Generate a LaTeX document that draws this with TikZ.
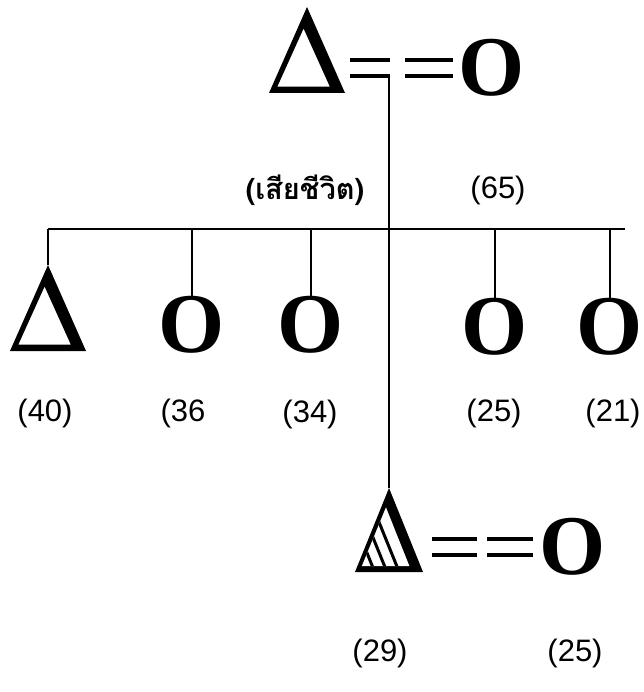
\documentclass[tikz,border=0pt]{standalone}
\usepackage{fontspec}
\setmainfont{Liberation Serif}
\newfontfamily\agefont{Liberation Sans}
\newfontfamily\thaifont[Script=Thai]{Loma}
\usetikzlibrary{calc}

% triangle symbol drawn inside a named node: node, width, height
\newcommand\malesym[3]{%
  \begin{scope}[shift={(#1.south west)}, x=#2, y=#3]
    \fill[even odd rule] (0,0) -- (0.5,1) -- (1,0) -- cycle
      (0.11,0.075) -- (0.455,0.75) -- (0.8,0.075) -- cycle;
  \end{scope}}
\newcommand\hatchsym[3]{%
  \begin{scope}[shift={(#1.south west)}, x=#2, y=#3]
    \fill (0,0) -- (0.5,1) -- (1,0) -- cycle;
    \fill[white] (0.1,0.07) -- (0.455,0.77) -- (0.8,0.07) -- cycle;
    \clip (0.1,0.07) -- (0.455,0.77) -- (0.8,0.07) -- cycle;
    \foreach \d in {0.35,0.53,0.71}
      \draw[line width=3pt] (0.5-\d,1) -- (1-\d,0);
  \end{scope}}

\begin{document}
\begin{tikzpicture}[
  x=1pt, y=-1pt,
  male/.style 2 args={minimum width=#1, minimum height=#2, inner sep=0pt, outer sep=0pt},
  female/.style={font=\fontsize{85}{85}\selectfont\bfseries, inner sep=0pt, outer sep=0pt},
  age/.style={font=\agefont\fontsize{31}{31}\selectfont, inner sep=0pt},
  kin/.style={line width=2pt},
  sibbar/.style={line width=2.6pt},
  eqline/.style={line width=3.5pt}
]
\useasboundingbox (0,0) rectangle (643,692);

% parents
\node[male={76pt}{86pt}] (father) at (307,50) {};
\malesym{father}{76pt}{86pt}
\node[female] (mother) at (492,68) {O};
\node[age, font=\thaifont\bfseries\fontsize{29}{29}\selectfont] (father-age) at (305,190) {(เสียชีวิต)};
\node[age] (mother-age) at (498,190) {(65)};

% marriage of the parents
\draw[eqline, dash pattern=on 40pt off 15pt on 48pt off 100pt]
  ($(father.east |- mother.west)+(4.5pt,8pt)$) -- ($(mother.west)+(-6pt,8pt)$);
\draw[eqline, dash pattern=on 40pt off 15pt on 48pt off 100pt]
  ($(father.east |- mother.west)+(4.5pt,-8pt)$) -- ($(mother.west)+(-6pt,-8pt)$);
\coordinate (eq-low) at ($(mother.west)+(0,-8pt)$);

% children
\node[male={76pt}{86pt}] (b1) at (48,308) {};
\malesym{b1}{76pt}{86pt}
\node[female] (d1) at (192,325) {O};
\node[female] (d2) at (311,325) {O};
\node[female] (d3) at (495,327) {O};
\node[female] (d4) at (610,327) {O};

\node[age] (b1-age) at (45,413) {(40)};
\node[age] (d1-age) at (183,413) {(36};
\node[age] (d2-age) at (310,414) {(34)};
\node[age] (d3-age) at (494,413) {(25)};
\node[age] (d4-age) at (613,413) {(21)};

% sibling bar
\coordinate (bar) at (0,229);
\draw[sibbar, shorten >=-15pt] (b1.north |- bar) -- (d4.north |- bar);
\foreach \n in {b1,d1,d2,d3,d4}
  \draw[kin] (\n.north) -- (\n.north |- bar);

% married son
\node[male={68pt}{84pt}] (son) at (389,530) {};
\hatchsym{son}{68pt}{84pt}
\node[female] (wife) at (573,547) {O};
\node[age] (son-age) at (380,653) {(29)};
\node[age] (wife-age) at (575,653) {(25)};

\draw[eqline, dash pattern=on 45pt off 10pt on 46pt off 100pt]
  ($(son.east |- wife.west)+(9pt,8pt)$) -- ($(wife.west)+(-7pt,8pt)$);
\draw[eqline, dash pattern=on 45pt off 10pt on 46pt off 100pt]
  ($(son.east |- wife.west)+(9pt,-8pt)$) -- ($(wife.west)+(-7pt,-8pt)$);

% descent line
\draw[kin] (eq-low -| son.north) -- (son.north);

\end{tikzpicture}
\end{document}
